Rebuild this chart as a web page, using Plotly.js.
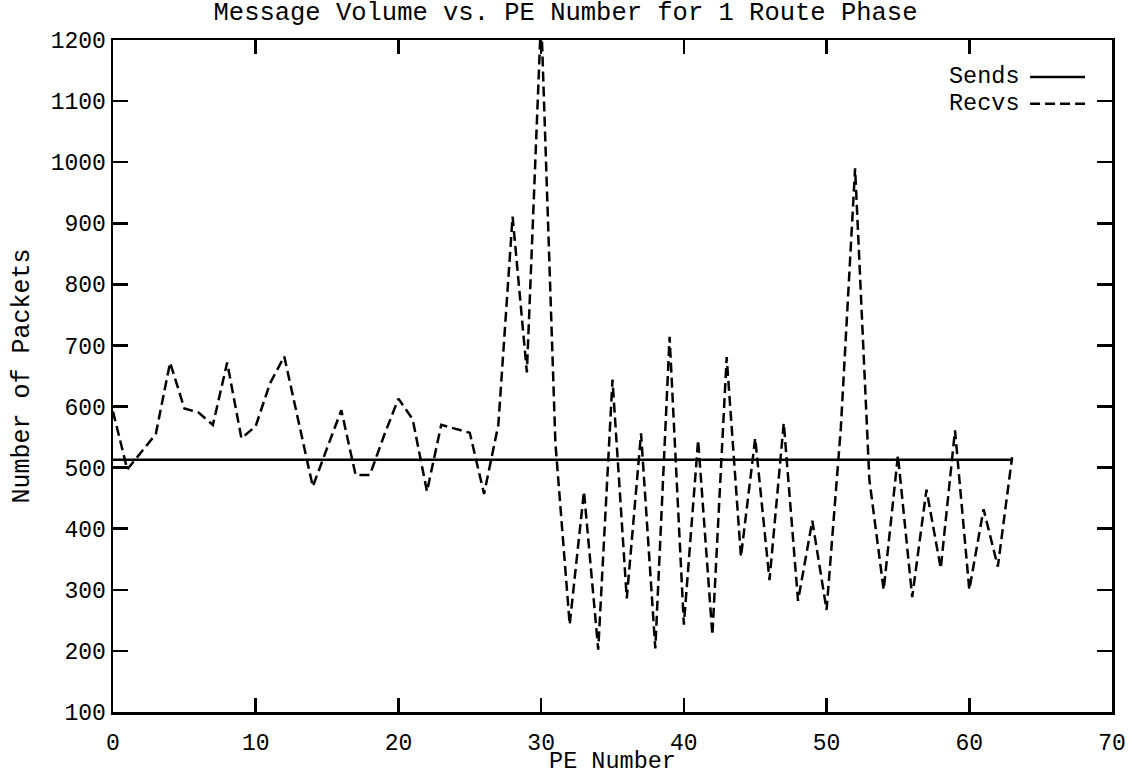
<!DOCTYPE html>
<html>
<head>
<meta charset="utf-8">
<script src="https://cdn.plot.ly/plotly-3.0.1.min.js"></script>
<style>
html,body{margin:0;padding:0;background:#fff;}
#chart{width:1131px;height:775px;}
</style>
</head>
<body>
<div id="chart"></div>
<script>
// PE numbers
var peNumbers = [];
for (var i = 0; i <= 63; i++) peNumbers.push(i);

// Sends: constant number of packets per PE
var sends = [513,513,513,513,513,513,513,513,513,513,513,513,513,513,513,513,
             513,513,513,513,513,513,513,513,513,513,513,513,513,513,513,513,
             513,513,513,513,513,513,513,513,513,513,513,513,513,513,513,513,
             513,513,513,513,513,513,513,513,513,513,513,513,513,513,513,513];

// Recvs: packets received per PE
var recvs = [592,497,526,555,672,597,590,570,672,548,568,638,682,578,469,532,
             594,488,488,553,613,579,461,570,564,557,457,570,911,656,1240,540,
             243,461,202,644,286,556,204,714,243,545,226,681,354,548,316,573,
             282,413,267,565,990,480,300,520,288,464,335,561,300,432,338,517];

var xTicks = [0,10,20,30,40,50,60,70];
var yTicks = [100,200,300,400,500,600,700,800,900,1000,1100,1200];

var FONT = "'Liberation Mono', 'Courier New', monospace";

var traces = [
  {x: peNumbers, y: sends, mode: 'lines', name: 'Sends',
   line: {color: '#000', width: 2.5}, showlegend: false},
  {x: peNumbers, y: recvs, mode: 'lines', name: 'Recvs',
   line: {color: '#000', width: 2.5, dash: '10px,5px'}, showlegend: false}
];

var layout = {
  width: 1131, height: 775,
  paper_bgcolor: '#fff', plot_bgcolor: '#fff',
  margin: {l: 113, r: 19, t: 40, b: 63},
  font: {family: FONT, color: '#000', size: 23},
  title: {text: 'Message Volume vs. PE Number for 1 Route Phase',
          font: {family: FONT, size: 25.5, color: '#000'},
          x: 0.5, xanchor: 'center', y: 0.986, yanchor: 'middle', yref: 'container'},
  xaxis: {
    range: [0, 70], tickvals: xTicks, ticktext: xTicks.map(String),
    ticks: 'inside', ticklen: 14, tickwidth: 2.5, tickcolor: '#000',
    showline: true, linewidth: 2.5, linecolor: '#000', mirror: 'allticks',
    showgrid: false, zeroline: false,
    tickfont: {family: FONT, size: 23, color: '#000'},
    ticklabelstandoff: 8,
    title: {text: 'PE Number', font: {family: FONT, size: 23.5, color: '#000'}, standoff: 0}
  },
  yaxis: {
    range: [100, 1200], tickvals: yTicks, ticktext: yTicks.map(String),
    ticks: 'inside', ticklen: 15, tickwidth: 2.5, tickcolor: '#000',
    showline: true, linewidth: 2.5, linecolor: '#000', mirror: 'allticks',
    showgrid: false, zeroline: false,
    tickfont: {family: FONT, size: 23, color: '#000'},
    title: {text: 'Number of Packets', font: {family: FONT, size: 25, color: '#000'}, standoff: 14}
  },
  annotations: [
    {text: 'Sends', xref: 'paper', yref: 'paper', x: 0.910, y: 0.945,
     xanchor: 'right', yanchor: 'middle', showarrow: false,
     font: {family: FONT, size: 23.5, color: '#000'}},
    {text: 'Recvs', xref: 'paper', yref: 'paper', x: 0.910, y: 0.905,
     xanchor: 'right', yanchor: 'middle', showarrow: false,
     font: {family: FONT, size: 23.5, color: '#000'}}
  ],
  shapes: [
    {type: 'line', xref: 'paper', yref: 'paper', x0: 0.918, x1: 0.973, y0: 0.945, y1: 0.945,
     line: {color: '#000', width: 2.5}},
    {type: 'line', xref: 'paper', yref: 'paper', x0: 0.918, x1: 0.973, y0: 0.905, y1: 0.905,
     line: {color: '#000', width: 2.5, dash: '10px,5px'}}
  ]
};

Plotly.newPlot('chart', traces, layout, {staticPlot: true, displayModeBar: false});
</script>
</body>
</html>
